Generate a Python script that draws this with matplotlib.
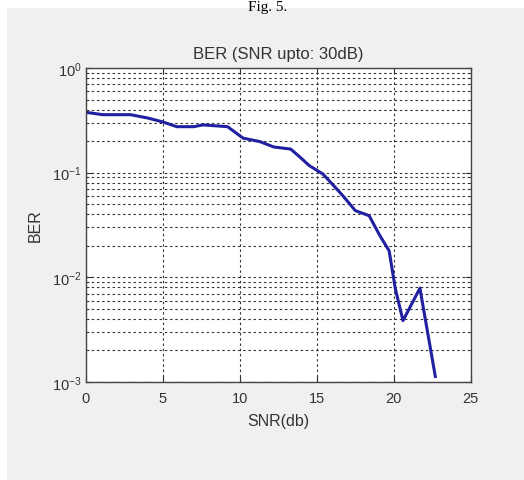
import numpy as np
import matplotlib.pyplot as plt
from matplotlib.patches import Rectangle
from matplotlib.ticker import LogLocator, NullFormatter

# values
snr = [0, 1.1, 2.9, 4.0, 5.0, 5.9, 7.0, 7.6, 9.2, 10.2, 11.3, 12.2, 13.3,
       13.9, 14.5, 15.4, 16.1, 16.7, 17.5, 18.4, 19.1, 19.7, 20.1, 20.6,
       21.7, 22.7]
ber = [0.377, 0.358, 0.358, 0.333, 0.305, 0.275, 0.275, 0.286, 0.275, 0.214,
       0.198, 0.176, 0.168, 0.141, 0.117, 0.097, 0.075, 0.060, 0.0434, 0.0388,
       0.025, 0.0179, 0.0078, 0.00386, 0.00787, 0.00113]

plt.rcParams['font.family'] = ['Liberation Sans', 'DejaVu Sans']
plt.rcParams['mathtext.fontset'] = 'custom'
plt.rcParams['mathtext.rm'] = 'Liberation Sans'
plt.rcParams['mathtext.it'] = 'Liberation Sans:italic'
plt.rcParams['mathtext.bf'] = 'Liberation Sans:bold'
plt.rcParams['mathtext.default'] = 'rm'

fig = plt.figure(figsize=(5.24, 4.81), dpi=100)
fig.patch.set_facecolor('white')
# gray window background
fig.patches.append(Rectangle((7 / 524, 0), 1, 1 - 9 / 481, transform=fig.transFigure,
                             facecolor='#f0f0f0', edgecolor='none', zorder=-5))
fig.text(268 / 524, 1 - 10.5 / 481, 'Fig. 5.', ha='center', va='baseline',
         fontsize=11, family='Liberation Serif')

ax = fig.add_axes([86 / 524, 1 - 383 / 481, (470.7 - 86) / 524, (383 - 69) / 481])
ax.set_facecolor('white')
ax.semilogy(snr, ber, color='#2020a0', lw=2.2)

ax.set_xlim(0, 25)
ax.set_ylim(1e-3, 1)
ax.set_xticks([0, 5, 10, 15, 20, 25])
ax.yaxis.set_major_locator(LogLocator(base=10, numticks=10))
ax.yaxis.set_minor_locator(LogLocator(base=10, subs=np.arange(2, 10), numticks=10))
ax.yaxis.set_minor_formatter(NullFormatter())

grid_style = dict(color='#333333', linestyle=(0, (2.2, 2.5)), linewidth=0.8)
ax.grid(True, which='major', axis='both', **grid_style)
ax.grid(True, which='minor', axis='y', **grid_style)

ax.tick_params(which='both', direction='in', top=True, right=True,
               labelsize=10.5, colors='#333333', labelcolor='#333333')
ax.tick_params(which='major', length=4)
ax.tick_params(which='minor', length=2)
ax.tick_params(axis='x', pad=6.5)
ax.tick_params(axis='y', pad=3)
for s in ax.spines.values():
    s.set_color('#444444')
    s.set_linewidth(1)

ax.set_title('BER (SNR upto: 30dB)', fontsize=12, color='#333333', pad=7)
ax.set_xlabel('SNR(db)', fontsize=11.5, color='#333333', labelpad=6)
ax.set_ylabel('BER', fontsize=11.5, color='#333333', labelpad=7)

fig.savefig('out.png', dpi=100)
